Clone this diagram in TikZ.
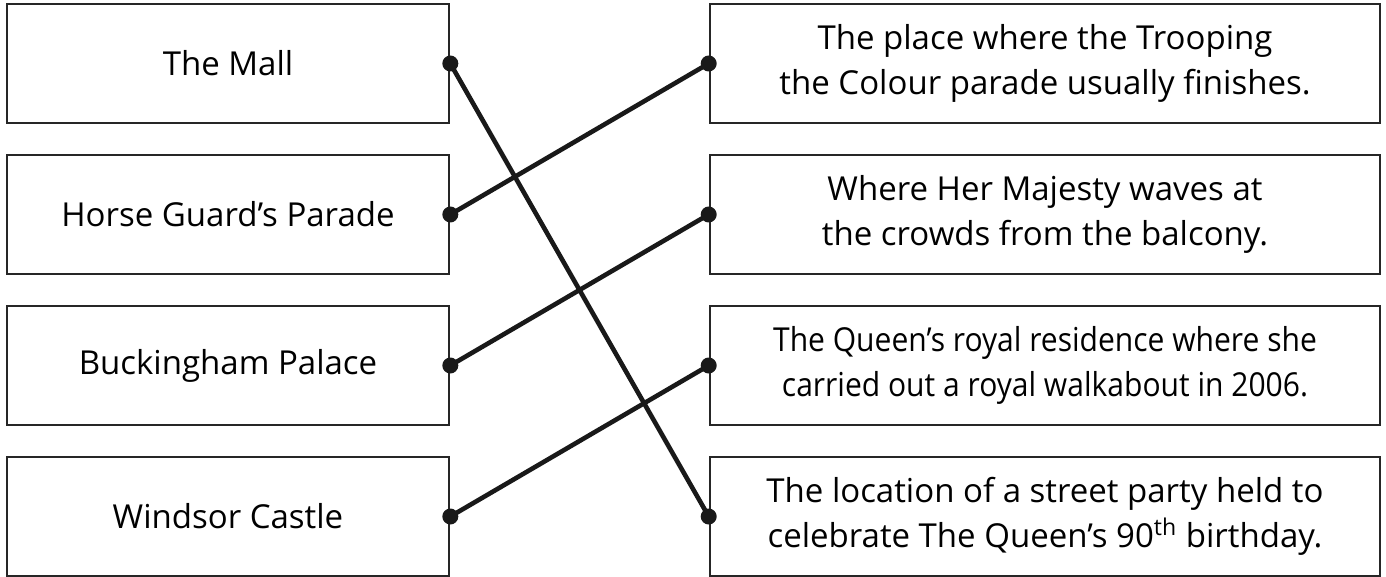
\documentclass[tikz,border=0pt]{standalone}
\usepackage{fontspec}
\setmainfont{Open Sans}
\newfontfamily\narrowfont[FakeStretch=0.91]{Open Sans}
\tikzset{
  card/.style={draw=black!85, line width=1.3pt, minimum height=59.5pt, inner sep=0pt,
    align=center, font=\fontsize{16.5}{22.5}\selectfont},
  place/.style={card, minimum width=221pt},
  clue/.style={card, minimum width=335pt},
  link/.style={line width=2.3pt, draw=black!90},
  pin/.style={fill=black!90}
}

\begin{document}
\begin{tikzpicture}[x=0.5pt,y=-0.5pt]
  %%%%% START %%%%%
  \def\xl{228}
  \def\xr{1045}
  \def\ya{63.5}
  \def\yb{214.5}
  \def\yc{365.5}
  \def\yd{516.5}
  \def\rad{4pt}

  \useasboundingbox (0,0) rectangle (1386,577);

  % places on the left
  \node[place] (mall) at (\xl,\ya) {The Mall};
  \node[place] (guards) at (\xl,\yb) {Horse Guard’s Parade};
  \node[place] (palace) at (\xl,\yc) {Buckingham Palace};
  \node[place] (castle) at (\xl,\yd) {Windsor Castle};

  % clues on the right
  \node[clue] (trooping) at (\xr,\ya) {The place where the Trooping\\the Colour parade usually finishes.};
  \node[clue] (balcony) at (\xr,\yb) {Where Her Majesty waves at\\the crowds from the balcony.};
  \node[clue] (walkabout) at (\xr,\yc) {\narrowfont The Queen’s royal residence where she\\\narrowfont carried out a royal walkabout in 2006.};
  \node[clue] (party) at (\xr,\yd) {The location of a street party held to\\celebrate The Queen’s 90\textsuperscript{th} birthday.};

  \draw[link] (mall.east) -- (party.west);
  \draw[link] (guards.east) -- (trooping.west);
  \draw[link] (palace.east) -- (balcony.west);
  \draw[link] (castle.east) -- (walkabout.west);

  \foreach \n in {mall,guards,palace,castle}
    \fill[pin] (\n.east) circle (\rad);
  \foreach \n in {trooping,balcony,walkabout,party}
    \fill[pin] (\n.west) circle (\rad);
  %%%%% END %%%%%
\end{tikzpicture}
\end{document}
